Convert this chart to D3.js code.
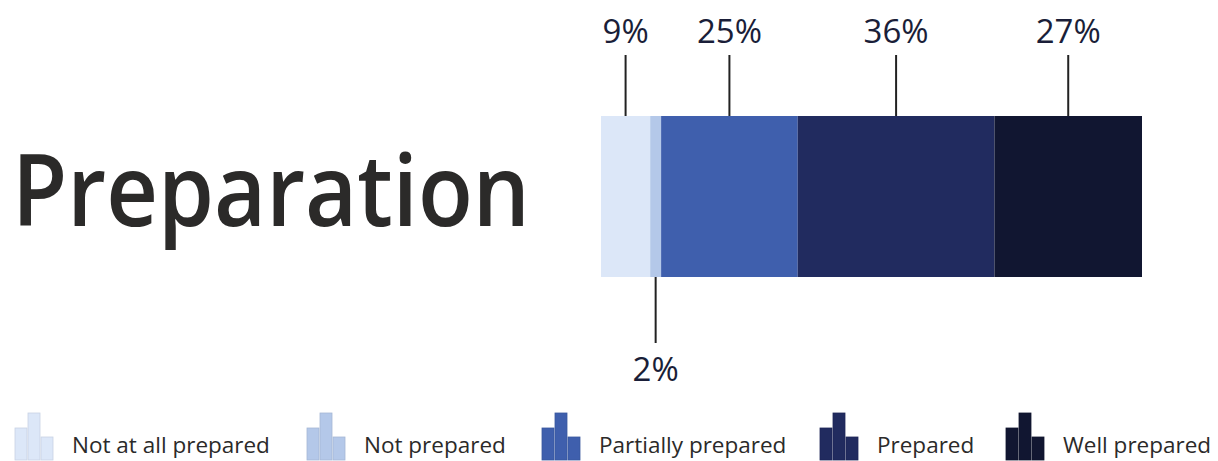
<!DOCTYPE html>
<html>
<head>
<meta charset="utf-8">
<script src="https://cdn.jsdelivr.net/npm/d3@7"></script>
<style>
  body { margin: 0; background: #fff; }
  text { font-family: 'Open Sans', 'Noto Sans', sans-serif; }
</style>
</head>
<body>
<svg width="1218" height="461"></svg>
<script>
const categories = ['Not at all prepared', 'Not prepared', 'Partially prepared', 'Prepared', 'Well prepared']
const values = [9, 2, 25, 36, 27]
const colors = ['#dce7f8', '#b4c8e9', '#3f5fad', '#212b5f', '#111631']
const labelSide = ['top', 'bottom', 'top', 'top', 'top']
const title = 'Preparation'

const svg = d3.select('svg')

// stack the segments end to end
let acc = 0
const segs = values.map((v, i) => {
  const s = { name: categories[i], value: v, x0: acc, x1: acc + v, color: colors[i], side: labelSide[i] }
  acc += v
  return s
})

const x = d3.scaleLinear().domain([0, d3.sum(values)]).range([601, 1142])
const barTop = 116
const barBottom = 277

svg.append('text')
   .attr('x', 12)
   .attr('y', 226)
   .attr('font-size', 100)
   .attr('font-weight', 600)
   .attr('fill', '#2b2a29')
   .attr('textLength', 518)
   .attr('lengthAdjust', 'spacingAndGlyphs')
   .text(title)

svg.selectAll('rect.seg')
   .data(segs)
   .enter().append('rect')
   .attr('class', 'seg')
   .attr('x', d => x(d.x0))
   .attr('y', barTop)
   .attr('width', d => x(d.x1) - x(d.x0))
   .attr('height', barBottom - barTop)
   .attr('fill', d => d.color)

const lab = svg.selectAll('g.lab')
               .data(segs)
               .enter().append('g')
               .attr('class', 'lab')
               .attr('transform', d => 'translate(' + ((x(d.x0) + x(d.x1)) / 2) + ',0)')

lab.append('line')
   .attr('y1', d => d.side === 'top' ? 55 : barBottom)
   .attr('y2', d => d.side === 'top' ? barTop : 343)
   .attr('stroke', '#222')
   .attr('stroke-width', 2)

lab.append('text')
   .attr('y', d => d.side === 'top' ? 43 : 381)
   .attr('text-anchor', 'middle')
   .attr('font-size', 33)
   .attr('fill', '#1a1e38')
   .text(d => d.value + '%')

// legend
const legendX = [15, 307, 542, 820, 1006]
const icon = [[0, 15, 12], [13, 0, 12], [26, 24, 12]] // [dx, top offset, width]

const leg = svg.selectAll('g.leg')
               .data(segs)
               .enter().append('g')
               .attr('class', 'leg')
               .attr('transform', (d, i) => 'translate(' + legendX[i] + ',413)')

leg.selectAll('rect')
   .data(d => icon.map(b => ({ b, color: d.color })))
   .enter().append('rect')
   .attr('x', d => d.b[0])
   .attr('y', d => d.b[1])
   .attr('width', d => d.b[2])
   .attr('height', d => 47 - d.b[1])
   .attr('fill', d => d.color)
   .attr('stroke', d => d3.color(d.color).darker(0.25))
   .attr('stroke-width', 0.8)

leg.append('text')
   .attr('x', 57)
   .attr('y', 40)
   .attr('font-size', 22.5)
   .attr('fill', '#2b2a29')
   .text(d => d.name)
</script>
</body>
</html>
